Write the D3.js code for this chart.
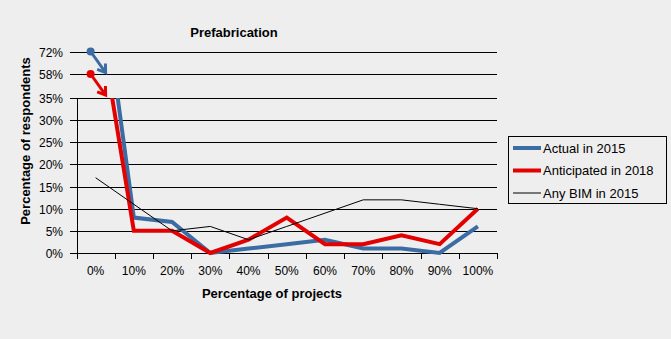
<!DOCTYPE html>
<html>
<head>
<meta charset="utf-8">
<script src="https://cdn.jsdelivr.net/npm/d3@7"></script>
<style>
  body { margin: 0; background: #eeeeee; }
  svg { display: block; font-family: "Liberation Sans", Arial, sans-serif; }
</style>
</head>
<body>
<div id="chart"></div>
<script>
// data
var categories = ["0%", "10%", "20%", "30%", "40%", "50%", "60%", "70%", "80%", "90%", "100%"];
var actual2015 = [72, 8, 7, 0, 1, 2, 3, 1, 1, 0, 6];
var anticipated2018 = [58, 5, 5, 0, 3, 8, 2, 2, 4, 2, 10];
var anyBim2015 = [17, 11, 5, 6, 3, 6, 9, 12, 12, 11, 10];
var yTickValues = [0, 5, 10, 15, 20, 25, 30, 35, 58, 72];

var series = [
  {name: "Actual in 2015", values: actual2015, color: "#3b6ca3", width: 4},
  {name: "Anticipated in 2018", values: anticipated2018, color: "#e30000", width: 4},
  {name: "Any BIM in 2015", values: anyBim2015, color: "#000000", width: 1}
];

var width = 671, height = 339;
var plot = {left: 76.5, right: 497, top: 98, bottom: 253};

var svg = d3.select("#chart").append("svg")
    .attr("width", width)
    .attr("height", height);

var x = d3.scaleBand()
    .domain(categories)
    .range([plot.left, plot.right])
    .padding(0);

// linear scale for the lines, clipped at 35%
var y = d3.scaleLinear()
    .domain([0, 35])
    .range([plot.bottom, plot.top]);

// broken axis: 58% and 72% sit above the 35% line
var yAxisScale = d3.scaleLinear()
    .domain([0, 35, 58, 72])
    .range([plot.bottom, plot.top, 74, 51.5]);

// gridlines
svg.append("g").selectAll("line")
    .data(yTickValues)
  .enter().append("line")
    .attr("x1", 70)
    .attr("x2", plot.right)
    .attr("y1", function(d) { return Math.round(yAxisScale(d)) + 0.5 })
    .attr("y2", function(d) { return Math.round(yAxisScale(d)) + 0.5 })
    .style("stroke", "#000")
    .style("stroke-width", 1);

// y axis labels
var yAxis = svg.append("g")
    .attr("transform", "translate(77,0)")
    .call(d3.axisLeft(yAxisScale)
      .tickValues(yTickValues)
      .tickSize(7)
      .tickPadding(7)
      .tickFormat(function(d) { return d + "%" }));
yAxis.select(".domain").remove();
yAxis.selectAll("line").remove();
yAxis.selectAll("text")
    .attr("y", function(d) { return Math.round(yAxisScale(d)) + 0.5 - yAxisScale(d) })
    .style("font-size", "12px")
    .style("font-family", "Liberation Sans, Arial, sans-serif")
    .style("fill", "#000");

// vertical axis line (only up to 35%)
svg.append("line")
    .attr("x1", 77.5).attr("x2", 77.5)
    .attr("y1", plot.top).attr("y2", plot.bottom + 0.5)
    .style("stroke", "#000");

// x tick marks at category boundaries
var boundaries = categories.map(function(c) { return x(c) }).concat([x.range()[1]]);
svg.append("g").selectAll("line")
    .data(boundaries)
  .enter().append("line")
    .attr("x1", function(d) { return Math.round(d) + 0.5 })
    .attr("x2", function(d) { return Math.round(d) + 0.5 })
    .attr("y1", plot.bottom)
    .attr("y2", plot.bottom + 6)
    .style("stroke", "#000");

// x labels
var xAxis = svg.append("g")
    .attr("transform", "translate(0," + plot.bottom + ")")
    .call(d3.axisBottom(x).tickSize(0).tickPadding(13));
xAxis.select(".domain").remove();
xAxis.selectAll("text")
    .style("font-size", "12px")
    .style("font-family", "Liberation Sans, Arial, sans-serif")
    .style("fill", "#000");

// clip for lines
svg.append("clipPath")
    .attr("id", "plotclip")
  .append("rect")
    .attr("x", 0)
    .attr("y", plot.top)
    .attr("width", width)
    .attr("height", height - plot.top);

var line = d3.line()
    .x(function(d, i) { return x(categories[i]) + x.bandwidth() / 2 })
    .y(function(d) { return y(d) });

svg.append("g")
    .attr("clip-path", "url(#plotclip)")
  .selectAll("path")
    .data(series)
  .enter().append("path")
    .attr("d", function(s) { return line(s.values) })
    .style("fill", "none")
    .style("stroke", function(s) { return s.color })
    .style("stroke-width", function(s) { return s.width })
    .style("stroke-linejoin", "miter");

// dots + arrows for values off the scale
var offScale = series.slice(0, 2).map(function(s) {
  return {color: s.color, value: s.values[0]};
});
var ann = svg.append("g");
offScale.forEach(function(d) {
  var cx = x(categories[0]) + x.bandwidth() / 2 - 5;
  var cy = yAxisScale(d.value);
  var tx = cx + 15, ty = cy + 21;
  var ang = Math.atan2(ty - cy, tx - cx);
  var arm = 9, spread = 0.6;
  ann.append("line")
      .attr("x1", cx).attr("y1", cy)
      .attr("x2", tx - 1.5 * Math.cos(ang)).attr("y2", ty - 1.5 * Math.sin(ang))
      .style("stroke", d.color)
      .style("stroke-width", 3);
  ann.append("path")
      .attr("d", "M" + (tx - arm * Math.cos(ang - spread)) + "," + (ty - arm * Math.sin(ang - spread)) +
                 "L" + tx + "," + ty +
                 "L" + (tx - arm * Math.cos(ang + spread)) + "," + (ty - arm * Math.sin(ang + spread)))
      .style("fill", "none")
      .style("stroke", d.color)
      .style("stroke-width", 3)
      .style("stroke-linejoin", "miter");
  ann.append("circle")
      .attr("cx", cx).attr("cy", cy)
      .attr("r", 4)
      .style("fill", d.color);
});

// titles
svg.append("text")
    .attr("x", 234).attr("y", 37)
    .attr("text-anchor", "middle")
    .style("font-size", "13px").style("font-weight", "bold")
    .text("Prefabrication");

svg.append("text")
    .attr("x", 272).attr("y", 298)
    .attr("text-anchor", "middle")
    .style("font-size", "13px").style("font-weight", "bold")
    .text("Percentage of projects");

svg.append("text")
    .attr("transform", "translate(30,141) rotate(-90)")
    .attr("text-anchor", "middle")
    .style("font-size", "13px").style("font-weight", "bold")
    .text("Percentage of respondents");

// legend
var legend = svg.append("g");
legend.append("rect")
    .attr("x", 508.5).attr("y", 136.5)
    .attr("width", 158).attr("height", 67)
    .style("fill", "none")
    .style("stroke", "#000");
var items = legend.selectAll(".item")
    .data(series)
  .enter().append("g")
    .attr("class", "item")
    .attr("transform", function(d, i) { return "translate(513," + (148 + i * 22.5) + ")" });
items.append("line")
    .attr("x1", 0).attr("x2", 28)
    .style("stroke", function(d) { return d.color })
    .style("stroke-width", function(d) { return d.width });
items.append("text")
    .attr("x", 30).attr("dy", "0.35em")
    .style("font-size", "13px")
    .text(function(d) { return d.name });
</script>
</body>
</html>
